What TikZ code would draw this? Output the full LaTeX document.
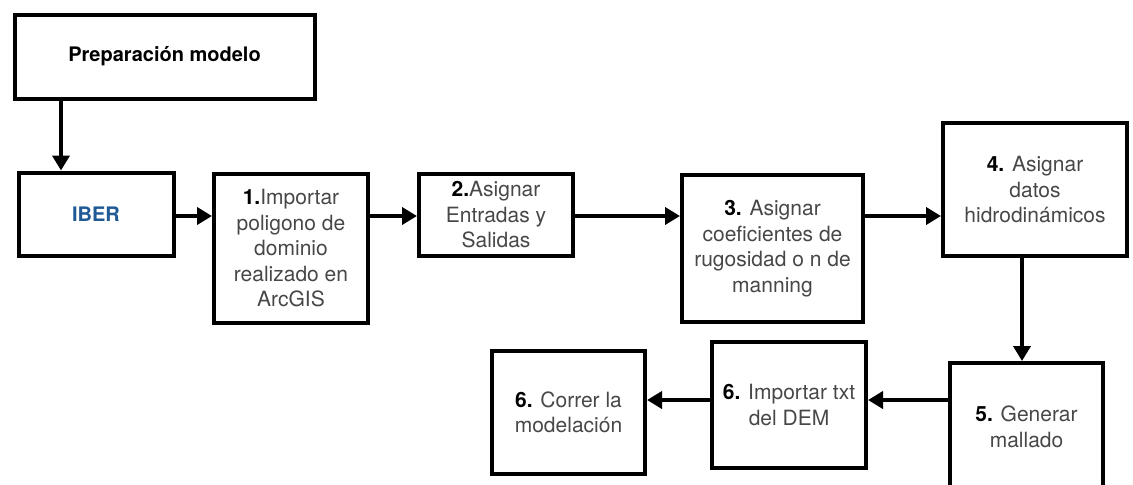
\documentclass[tikz,border=0pt]{standalone}
\usepackage{fontspec}
\setmainfont{TeX Gyre Heros}
\usetikzlibrary{arrows.meta}
\definecolor{iberblue}{HTML}{1F5A96}
\definecolor{txtgray}{gray}{0.28}
\newcommand{\npaso}[1]{\textbf{\color{black}#1}}
\begin{document}
\begin{tikzpicture}[x=0.5pt,y=-0.5pt,
  paso/.style={draw=black,line width=2pt,align=center,inner sep=0pt,text=txtgray,
    font=\fontsize{10.5}{12.75}\selectfont},
  flecha/.style={line width=2pt,-{Triangle[length=7.5pt,width=8.5pt]}}]
\useasboundingbox (0,0) rectangle (1133,484);
\clip (0,0) rectangle (1133,484);

\node[paso,minimum width=150pt,minimum height=42pt,text=black,font=\fontsize{10}{12}\selectfont\bfseries]
  (prep) at (164.5,56.5) {Preparación modelo};
\node[paso,minimum width=77.5pt,minimum height=41.5pt,text=iberblue,font=\fontsize{10}{12}\selectfont\bfseries]
  (iber) at (96,214) {IBER};
\node[paso,minimum width=77pt,minimum height=74.5pt] (imp) at (291,248.5)
  {\npaso{1.}Importar\\poligono de\\dominio\\realizado en\\ArcGIS};
\node[paso,minimum width=77pt,minimum height=41pt] (ent) at (496,215)
  {\npaso{2.}Asignar\\Entradas y\\Salidas};
\node[paso,minimum width=90.5pt,minimum height=73.5pt] (coef) at (772.5,248.5)
  {\npaso{3.} Asignar\\coeficientes de\\rugosidad o n de\\manning};
\node[paso,minimum width=92pt,minimum height=66.5pt] (datos) at (1035,189.5)
  {\npaso{4.} Asignar\\datos\\hidrodinámicos};
\node[paso,minimum width=76.5pt,minimum height=64pt] (mallado) at (1026.5,427)
  {\npaso{5.} Generar\\mallado};
\node[paso,minimum width=77pt,minimum height=63pt] (dem) at (789,405)
  {\npaso{6.} Importar txt\\del DEM};
\node[paso,minimum width=76.5pt,minimum height=61.5pt] (correr) at (568.5,412.5)
  {\npaso{6.} Correr la\\modelación};

% conectores
\draw[flecha] (prep.south -| 61,0) -- (iber.north -| 61,0);
\foreach \a/\b in {iber/imp,imp/ent,ent/coef,coef/datos}
  \draw[flecha] (\a.east |- 0,216) -- (\b.west |- 0,216);
\draw[flecha] (datos.south -| 1022,0) -- (mallado.north -| 1022,0);
\draw[flecha] (mallado.west |- 0,400) -- (dem.east |- 0,400);
\draw[flecha] (dem.west |- 0,400) -- (correr.east |- 0,400);
\end{tikzpicture}
\end{document}
